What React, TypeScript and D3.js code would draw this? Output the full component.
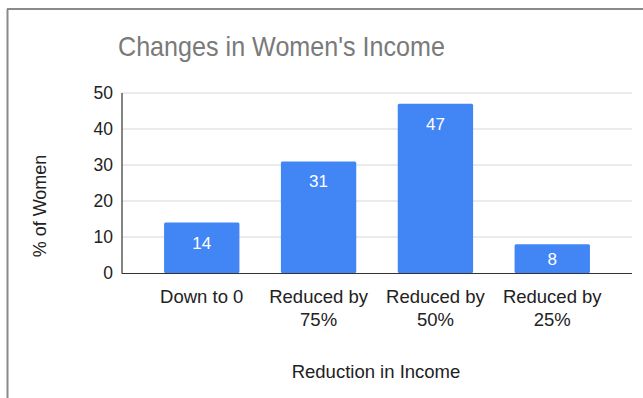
import React from "react";
import * as d3 from "d3";

const categories = ["Down to 0", "Reduced by 75%", "Reduced by 50%", "Reduced by 25%"];
const catLines = [["Down to 0"], ["Reduced by", "75%"], ["Reduced by", "50%"], ["Reduced by", "25%"]];
const values = [14, 31, 47, 8];
const yTicks = [0, 10, 20, 30, 40, 50];

const W = 643;
const H = 398;
const FONT = "'Liberation Sans', Arial, sans-serif";

export default function App() {
  const x = d3.scaleBand<string>().domain(categories).range([122, 632]).paddingInner(0.355).paddingOuter(0.36);
  const y = d3.scaleLinear().domain([0, 50]).range([273, 93]);
  return (
    <div style={{ position: "absolute", left: 0, top: 0 }}>
      <svg width={W} height={H} style={{ display: "block" }}>
        <rect x={0} y={0} width={W} height={H} fill="#fff" />
        <line x1={7.5} y1={9} x2={7.5} y2={H} stroke="#8a8a8a" strokeWidth={2} />
        <line x1={7} y1={9} x2={W} y2={9} stroke="#8a8a8a" strokeWidth={2} />
        <text x={118} y={56} fontFamily={FONT} fontSize={28} fill="#7a7a7a" textLength={327} lengthAdjust="spacingAndGlyphs">Changes in Women's Income</text>
        {yTicks.map((t) => (
          <g key={t}>
            {t > 0 && <line x1={122} x2={632} y1={y(t)} y2={y(t)} stroke="#d6d6d6" strokeWidth={1} />}
            <text x={113} y={y(t)} dy="0.35em" textAnchor="end" fontFamily={FONT} fontSize={17.5} fill="#222">{t}</text>
          </g>
        ))}
        {categories.map((c, i) => {
          const top = y(values[i]);
          const bx = x(c)!;
          const bw = x.bandwidth();
          const cy = Math.min(top + 20, (top + y(0)) / 2);
          return (
            <g key={c}>
              <rect x={bx} y={top} width={bw} height={y(0) - top} fill="#4285f4" rx={1.5} />
              <text x={bx + bw / 2} y={cy} dy="0.35em" textAnchor="middle" fontFamily={FONT} fontSize={17} fill="#fff">{values[i]}</text>
              {catLines[i].map((l, j) => (
                <text key={j} x={bx + bw / 2} y={303 + j * 23} textAnchor="middle" fontFamily={FONT} fontSize={18.5} fill="#222">{l}</text>
              ))}
            </g>
          );
        })}
        <line x1={122} x2={122} y1={93} y2={273.5} stroke="#333" strokeWidth={1.2} />
        <line x1={122} x2={632} y1={273.5} y2={273.5} stroke="#333" strokeWidth={1.2} />
        <text transform={`translate(46,206) rotate(-90)`} textAnchor="middle" fontFamily={FONT} fontSize={18} fill="#222">% of Women</text>
        <text x={376} y={378} textAnchor="middle" fontFamily={FONT} fontSize={18.5} fill="#222">Reduction in Income</text>
      </svg>
    </div>
  );
}
